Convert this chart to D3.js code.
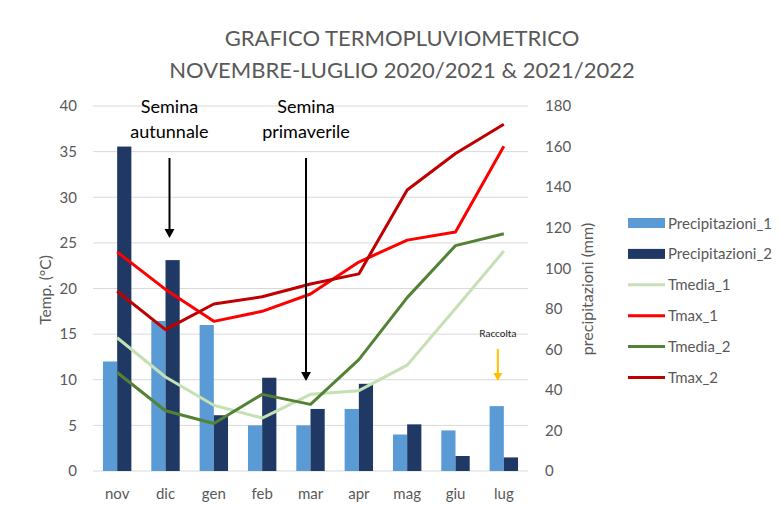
<!DOCTYPE html>
<html><head><meta charset="utf-8">
<script src="https://cdn.jsdelivr.net/npm/d3@7/dist/d3.min.js"></script>
<style>body{margin:0;background:#fff;} svg{display:block;font-family:Lato,"Open Sans",sans-serif;}</style>
</head><body><svg id="c" width="781" height="507"></svg>
<script>
const months = ["nov","dic","gen","feb","mar","apr","mag","giu","lug"];
const precip1 = [54, 74, 72, 22.5, 22.5, 30.6, 18, 20, 32];
const precip2 = [160, 104, 27.5, 46, 30.6, 43, 23, 7.4, 6.7];
const tmedia1 = [14.6, 10.3, 7.2, 5.8, 8.4, 8.8, 11.6, 17.8, 24.1];
const tmax1   = [24.0, 19.9, 16.4, 17.5, 19.4, 22.9, 25.3, 26.2, 35.6];
const tmedia2 = [10.8, 6.6, 5.2, 8.4, 7.3, 12.2, 19.0, 24.7, 26.0];
const tmax2   = [19.7, 15.5, 18.3, 19.1, 20.5, 21.6, 30.8, 34.8, 38.0];
const tempTicks = [0,5,10,15,20,25,30,35,40];
const precTicks = [0,20,40,60,80,100,120,140,160,180];
const titleLines = ["GRAFICO TERMOPLUVIOMETRICO","NOVEMBRE-LUGLIO 2020/2021 & 2021/2022"];

const svg = d3.select("#c");
const pL = 93, pR = 528, pT = 106, pB = 471;
const grey = "#595959";
const FF = "Lato,'Open Sans',sans-serif";

const x = d3.scaleBand().domain(months).range([pL, pR]).paddingInner(0).paddingOuter(0);
const yT = d3.scaleLinear().domain([0, 40]).range([pB, pT]);
const yP = d3.scaleLinear().domain([0, 180]).range([pB, pT]);

// gridlines
svg.append("g").selectAll("line").data(tempTicks).join("line")
  .attr("x1", pL).attr("x2", pR)
  .attr("y1", d => yT(d)).attr("y2", d => yT(d))
  .attr("stroke", "#d9d9d9").attr("stroke-width", 1);

// left axis
const axL = d3.axisLeft(yT).tickValues(tempTicks).tickSize(0).tickPadding(0);
const gL = svg.append("g").attr("transform", `translate(${pL-16},0)`).call(axL);
gL.select(".domain").remove();
gL.selectAll("text").attr("fill", grey).style("font-size", "15px").style("font-family", FF);

// right axis
const axR = d3.axisRight(yP).tickValues(precTicks).tickSize(0).tickPadding(0);
const gR = svg.append("g").attr("transform", `translate(${pR+17},0)`).call(axR);
gR.select(".domain").remove();
gR.selectAll("text").attr("fill", grey).style("font-size", "15px").style("font-family", FF);

// bottom axis
const axB = d3.axisBottom(x).tickSize(0).tickPadding(0);
const gB = svg.append("g").attr("transform", `translate(0,${pB+17})`).call(axB);
gB.select(".domain").remove();
gB.selectAll("text").attr("fill", grey).style("font-size", "15px").style("font-family", FF);

// bars
const barW = 14.2;
const bars = svg.append("g");
bars.selectAll(".b1").data(months).join("rect").attr("class","b1")
  .attr("x", d => x(d) + x.bandwidth()/2 - barW)
  .attr("width", barW)
  .attr("y", (d,i) => yP(precip1[i]))
  .attr("height", (d,i) => yP(0) - yP(precip1[i]))
  .attr("fill", "#5b9bd5");
bars.selectAll(".b2").data(months).join("rect").attr("class","b2")
  .attr("x", d => x(d) + x.bandwidth()/2)
  .attr("width", barW)
  .attr("y", (d,i) => yP(precip2[i]))
  .attr("height", (d,i) => yP(0) - yP(precip2[i]))
  .attr("fill", "#203864");

// lines
const series = [
  {name:"Tmedia_1", vals:tmedia1, color:"#c5e0b4"},
  {name:"Tmax_1", vals:tmax1, color:"#ff0000"},
  {name:"Tmedia_2", vals:tmedia2, color:"#548235"},
  {name:"Tmax_2", vals:tmax2, color:"#c00000"}
];
const line = d3.line().x((d,i) => x(months[i]) + x.bandwidth()/2).y(d => yT(d));
svg.append("g").selectAll("path").data(series).join("path")
  .attr("d", s => line(s.vals))
  .attr("fill", "none").attr("stroke", s => s.color)
  .attr("stroke-width", 3).attr("stroke-linejoin", "round");

// annotations
const ann = svg.append("g").style("font-family", FF);
function arrow(xc, y1, y2, color, w, head) {
  ann.append("line").attr("x1", xc).attr("x2", xc).attr("y1", y1).attr("y2", y2 - head)
    .attr("stroke", color).attr("stroke-width", w);
  ann.append("path").attr("d", `M${xc-head*0.55},${y2-head} L${xc+head*0.55},${y2-head} L${xc},${y2} Z`).attr("fill", color);
}
const xAut = x("dic") + x.bandwidth()/2 + 4;
const xPri = x("mar") + x.bandwidth()/2 - 4.5;
function annText(xc, y, t, size, col) {
  ann.append("text").attr("x", xc).attr("y", y).attr("text-anchor","middle")
    .style("font-size", size).attr("fill", col).text(t);
}
annText(xAut, 113, "Semina", "18px", "#000");
annText(xAut, 138, "autunnale", "18px", "#000");
annText(xPri, 113, "Semina", "18px", "#000");
annText(xPri, 138, "primaverile", "18px", "#000");
arrow(xAut, 158, 238, "#000", 2, 9);
arrow(xPri, 158, 381, "#000", 2, 9);
const xLug = x("lug") + x.bandwidth()/2 - 6;
annText(xLug, 337, "Raccolta", "10px", "#222");
arrow(xLug, 349, 381, "#ffc000", 2, 8);

// axis titles
svg.append("text").attr("transform", "translate(51,290) rotate(-90)").attr("text-anchor","middle")
  .attr("fill", grey).style("font-size","15.5px").text("Temp. (°C)");
svg.append("text").attr("transform", "translate(593,289) rotate(-90)").attr("text-anchor","middle")
  .attr("fill", grey).style("font-size","16px").text("precipitazioni (mm)");

// title
svg.append("g").selectAll("text").data(titleLines).join("text")
  .attr("x", 402).attr("y", (d,i) => 46 + i*32).attr("text-anchor","middle")
  .attr("fill", grey).style("font-size","22px").text(d => d);

// legend
const legItems = [
  {name:"Precipitazioni_1", color:"#5b9bd5", type:"rect"},
  {name:"Precipitazioni_2", color:"#203864", type:"rect"},
  {name:"Tmedia_1", color:"#c5e0b4", type:"line"},
  {name:"Tmax_1", color:"#ff0000", type:"line"},
  {name:"Tmedia_2", color:"#548235", type:"line"},
  {name:"Tmax_2", color:"#c00000", type:"line"}
];
const leg = svg.append("g").attr("transform", "translate(628,223)");
legItems.forEach((it, i) => {
  const g = leg.append("g").attr("transform", `translate(0,${i*30.9})`);
  if (it.type === "rect") g.append("rect").attr("x",0).attr("y",-5).attr("width",37).attr("height",10).attr("fill",it.color);
  else g.append("line").attr("x1",0).attr("x2",37).attr("y1",0).attr("y2",0).attr("stroke",it.color).attr("stroke-width",3);
  g.append("text").attr("x", 40).attr("y", 5.5).attr("fill", grey).style("font-size","15px").text(it.name);
});
</script></body></html>
